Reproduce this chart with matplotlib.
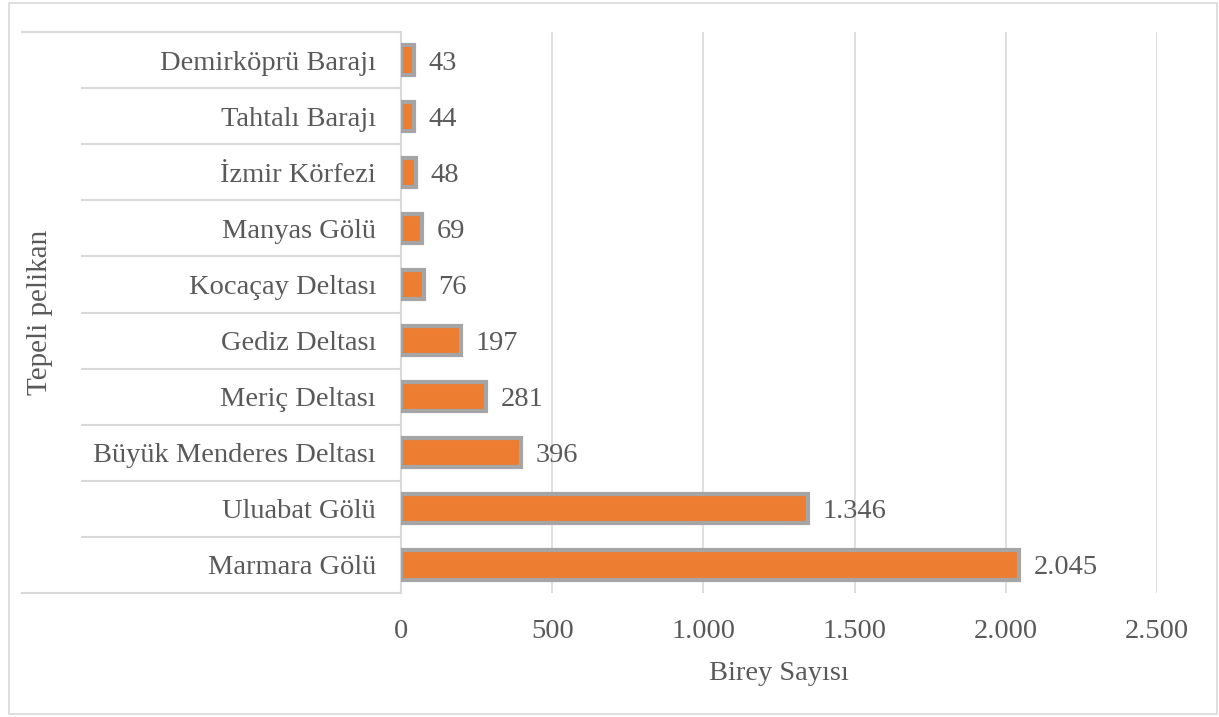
import matplotlib.pyplot as plt
from matplotlib.patches import Rectangle
import matplotlib.transforms as mtransforms

# Veriler
yerler = ['Marmara Gölü', 'Uluabat Gölü', 'Büyük Menderes Deltası', 'Meriç Deltası',
          'Gediz Deltası', 'Kocaçay Deltası', 'Manyas Gölü', 'İzmir Körfezi',
          'Tahtalı Barajı', 'Demirköprü Barajı']
birey = [2045, 1346, 396, 281, 197, 76, 69, 48, 44, 43]
xticks = [0, 500, 1000, 1500, 2000, 2500]
grup = 'Tepeli pelikan'

plt.rcParams['font.family'] = ['Liberation Serif', 'DejaVu Serif']
metin = '#595959'
izgara = '#D9D9D9'
fs = 20.5

def nokta(v):
    return f'{v:,}'.replace(',', '.')

fig = plt.figure(figsize=(12.19, 7.17), dpi=100)
ax = fig.add_axes([401 / 1219, 1 - 593 / 717, 756 / 1219, 561 / 717])

y = range(len(yerler))
ax.barh(y, birey, height=0.52, color='#ED7D31', edgecolor='#A5A5A5', linewidth=3, zorder=3)
for i, v in enumerate(birey):
    ax.text(v + 48, i, nokta(v), va='center_baseline', ha='left', fontsize=fs,
            color=metin, zorder=4)

ax.set_xlim(0, 2500)
ax.set_ylim(-0.5, len(yerler) - 0.5)
ax.set_xticks(xticks)
ax.set_xticklabels([nokta(t) for t in xticks], fontsize=fs, color=metin)
ax.xaxis.grid(True, color=izgara, linewidth=1.2)
ax.set_axisbelow(True)
ax.tick_params(axis='x', length=0, pad=19)
ax.tick_params(axis='y', length=0, pad=18)
ax.set_yticks(list(y))
ax.set_yticklabels(yerler, fontsize=fs, color=metin)
ax.set_xlabel('Birey Sayısı', fontsize=fs, color=metin, labelpad=12)
for s in ['top', 'right', 'bottom']:
    ax.spines[s].set_visible(False)
ax.spines['left'].set_color(izgara)
ax.spines['left'].set_linewidth(1.5)

# Kategori ayırıcı çizgiler
tr = mtransforms.blended_transform_factory(ax.transAxes, ax.transData)
for k in range(len(yerler) + 1):
    yy = k - 0.5
    x0 = -0.501 if k in (0, len(yerler)) else -0.422
    ax.plot([x0, 0], [yy, yy], transform=tr, color=izgara, linewidth=1.5, clip_on=False)

# Grup etiketi
fig.text(40 / 1219, 1 - 312 / 717, grup, rotation=90, ha='center', va='center',
         fontsize=21, color=metin)

# Dış çerçeve
fig.patches.append(Rectangle((9 / 1219, 3 / 717), 1208 / 1219, 711 / 717,
                             transform=fig.transFigure, fill=False,
                             edgecolor=izgara, linewidth=1.2))

fig.savefig('out.png', dpi=100, facecolor='white')
